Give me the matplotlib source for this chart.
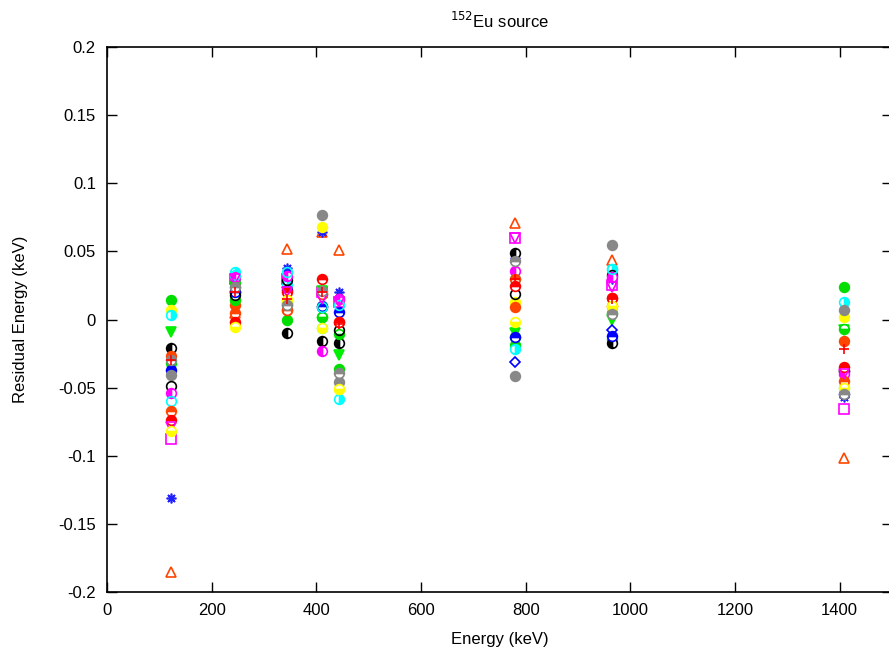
import matplotlib
matplotlib.use("Agg")
import matplotlib.pyplot as plt

plt.rcParams['font.family'] = ['Liberation Sans', 'DejaVu Sans']
plt.rcParams['axes.unicode_minus'] = False

nan = float('nan')
energies = [121.8, 244.7, 344.3, 411.1, 444.0, 778.9, 964.1, 1408.0]

det01 = [-0.185, 0.005, 0.052, 0.064, 0.051, 0.071, 0.044, -0.102]
det02 = [-0.131, 0.030, 0.038, 0.064, 0.020, 0.045, 0.030, -0.057]
det03 = [-0.088, 0.030, 0.030, 0.020, 0.013, 0.060, 0.025, -0.066]
det04 = [0.014, 0.027, -0.0004, 0.002, -0.036, -0.019, -0.014, 0.024]
det05 = [0.007, -0.004, 0.014, 0.068, -0.051, 0.013, 0.010, 0.002]
det06 = [0.003, 0.035, 0.025, -0.0065, -0.058, -0.022, 0.037, 0.013]
det07 = [-0.009, 0.017, 0.020, 0.021, -0.026, -0.010, 0.000, -0.008]
det08 = [-0.021, 0.020, -0.010, -0.016, -0.0175, 0.049, -0.0175, -0.038]
det09 = [-0.027, 0.0107, 0.007, 0.019, 0.015, 0.009, 0.016, -0.016]
det10 = [-0.032, 0.014, 0.012, 0.002, -0.011, -0.013, 0.005, -0.007]
det11 = [-0.037, 0.020, 0.022, 0.010, 0.0057, -0.013, -0.012, -0.055]
det12 = [-0.041, 0.024, 0.011, 0.077, -0.046, -0.0415, 0.055, 0.007]
det13 = [-0.049, 0.018, 0.029, 0.009, -0.008, 0.0185, 0.033, -0.038]
det14 = [-0.054, 0.031, 0.032, -0.023, 0.015, 0.0356, 0.031, -0.040]
det15 = [-0.060, 0.033, 0.035, 0.009, 0.011, 0.030, 0.037, -0.050]
det16 = [-0.067, 0.0045, 0.007, 0.019, -0.002, 0.030, 0.010, -0.045]
det17 = [-0.074, -0.0016, 0.020, 0.030, -0.0016, 0.0246, 0.0156, -0.035]
det18 = [-0.079, 0.030, 0.020, 0.015, 0.013, 0.060, 0.024, -0.040]
det19 = [-0.082, -0.0057, 0.014, -0.0065, -0.051, -0.0016, 0.010, -0.050]
det20 = [-0.030, 0.024, 0.0107, 0.021, -0.039, 0.043, 0.004, -0.055]
det21 = [nan, nan, nan, nan, nan, -0.031, -0.0077, nan]
det22 = [-0.030, 0.020, 0.015, 0.020, -0.003, 0.030, 0.015, -0.022]

residuals = [det01, det02, det03, det04, det05, det06, det07, det08, det09, det10, det11,
             det12, det13, det14, det15, det16, det17, det18, det19, det20, det21, det22]

OR = '#ff4500'
styles = [
    dict(marker='^', color=OR, fillstyle='none'),
    dict(marker=(8, 2, 0), color='#2020ff'),
    dict(marker='s', color='#ff00ff', fillstyle='none'),
    dict(marker='o', color='#00dd00', fillstyle='full'),
    dict(marker='o', color='#ffff00', fillstyle='full'),
    dict(marker='o', color='#00ffff', fillstyle='right'),
    dict(marker='v', color='#00ee00', fillstyle='full'),
    dict(marker='o', color='black', fillstyle='left'),
    dict(marker='o', color=OR, fillstyle='full'),
    dict(marker='o', color='#00dd00', fillstyle='bottom'),
    dict(marker='o', color='#0000ff', fillstyle='top'),
    dict(marker='o', color='#888888', fillstyle='full'),
    dict(marker='o', color='black', fillstyle='none'),
    dict(marker='o', color='#ff00ff', fillstyle='left'),
    dict(marker='o', color='#00ffff', fillstyle='none'),
    dict(marker='o', color=OR, fillstyle='top'),
    dict(marker='o', color='#ff0000', fillstyle='top'),
    dict(marker='v', color='#ff00ff', fillstyle='none'),
    dict(marker='o', color='#ffff00', fillstyle='bottom'),
    dict(marker='o', color='#888888', fillstyle='top'),
    dict(marker='D', color='#0000ff', fillstyle='none'),
    dict(marker='+', color='#ff0000'),
]

fig = plt.figure(figsize=(8.89, 6.5), dpi=100)
ax = fig.add_axes([107/889, 1 - 592/650, 785/889, 545/650])

for vals, st in zip(residuals, styles):
    ms = 5.5 if st['marker'] == 'D' else 7
    kw = dict(linestyle='none', markersize=ms, markeredgewidth=1.2,
              marker=st['marker'], color=st['color'])
    fs = st.get('fillstyle')
    if fs is not None:
        kw['fillstyle'] = fs
        if fs not in ('full', 'none'):
            kw['markerfacecoloralt'] = 'white'
    ax.plot(energies, vals, **kw)

ax.set_xlim(0, 1500)
ax.set_ylim(-0.2, 0.2)
ax.set_xticks([0, 200, 400, 600, 800, 1000, 1200, 1400])
ax.set_yticks([-0.2, -0.15, -0.1, -0.05, 0, 0.05, 0.1, 0.15, 0.2])
ax.set_yticklabels(['-0.2', '-0.15', '-0.1', '-0.05', '0', '0.05', '0.1', '0.15', '0.2'])
ax.tick_params(direction='in', length=7, width=1, top=True, right=True,
               labelsize=12, pad=8)
for s in ax.spines.values():
    s.set_linewidth(1.2)

ax.set_xlabel('Energy (keV)', fontsize=12, labelpad=10)
ax.set_ylabel('Residual Energy (keV)', fontsize=12, labelpad=22)
ax.set_title('$^{152}$Eu source', fontsize=12, pad=14)

fig.savefig('out.png', dpi=100)
